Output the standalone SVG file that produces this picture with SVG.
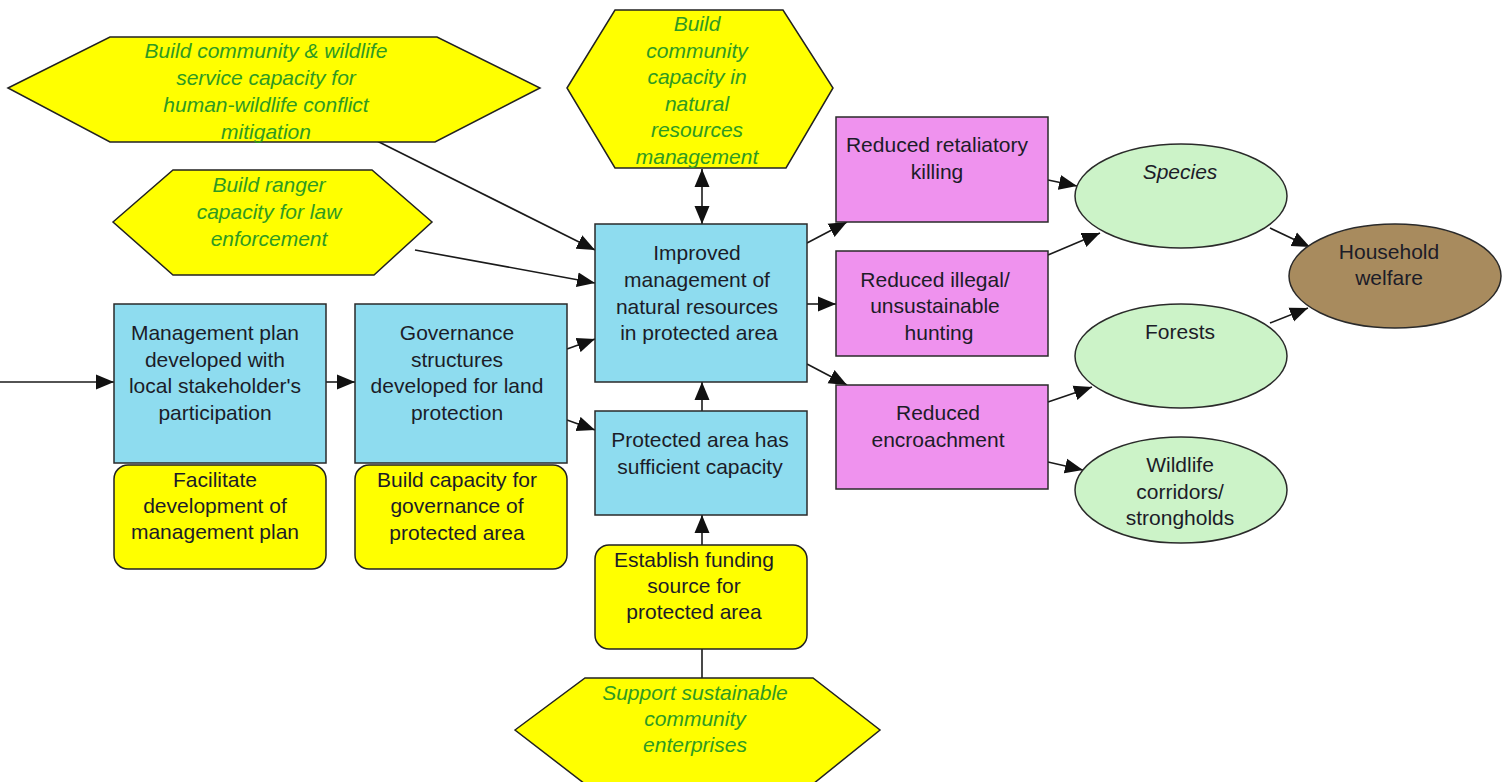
<svg xmlns="http://www.w3.org/2000/svg" width="1509" height="782" viewBox="0 0 1509 782">
  <defs>
    <marker id="arrow" markerUnits="userSpaceOnUse" markerWidth="19" markerHeight="16" refX="18" refY="8" orient="auto-start-reverse">
      <path d="M0,0.5 L18,8 L0,15.5 z" fill="#111"/>
    </marker>
  </defs>
  <style>
    text { font-family: "Liberation Sans", Arial, sans-serif; font-size: 21px; text-anchor: middle; fill: #1c1c28; }
    .strategy text { fill: #2f9a22; font-style: italic; }
    .hex { fill: #ffff00; stroke: #222; stroke-width: 1.5; }
    .activity { fill: #ffff00; stroke: #222; stroke-width: 1.5; }
    .result { fill: #8edcef; stroke: #2a2a2a; stroke-width: 1.5; }
    .threat { fill: #ef92ee; stroke: #2a2a2a; stroke-width: 1.5; }
    .target { fill: #ccf3c8; stroke: #2a2a2a; stroke-width: 1.5; }
    .welfare { fill: #a88b5e; stroke: #2a2a2a; stroke-width: 1.5; }
    .links line { stroke: #1a1a1a; stroke-width: 1.6; }
    .links .arr { marker-end: url(#arrow); }
  </style>
  <rect width="1509" height="782" fill="#ffffff"/>

  <!-- connectors -->
  <g id="connectors" class="links">
    <line class="arr" x1="0" y1="382" x2="114" y2="382"/>
    <line class="arr" x1="326" y1="382" x2="355" y2="382"/>
    <line class="arr" x1="377" y1="141" x2="595" y2="250"/>
    <line class="arr" x1="415" y1="250" x2="595" y2="283"/>
    <line class="arr" x1="567" y1="349" x2="595" y2="339"/>
    <line class="arr" x1="567" y1="420" x2="595" y2="430"/>
    <line class="arr" x1="702" y1="169" x2="702" y2="224" marker-start="url(#arrow)"/>
    <line class="arr" x1="702" y1="411" x2="702" y2="382"/>
    <line class="arr" x1="702" y1="545" x2="702" y2="515"/>
    <line x1="702" y1="678" x2="702" y2="649"/>
    <line class="arr" x1="807" y1="243" x2="847" y2="222"/>
    <line class="arr" x1="807" y1="304" x2="836" y2="304"/>
    <line class="arr" x1="807" y1="364" x2="847" y2="385"/>
    <line class="arr" x1="1048" y1="180" x2="1077" y2="186"/>
    <line class="arr" x1="1048" y1="255" x2="1100" y2="233"/>
    <line class="arr" x1="1048" y1="402" x2="1092" y2="387"/>
    <line class="arr" x1="1048" y1="462" x2="1083" y2="470"/>
    <line class="arr" x1="1270" y1="228" x2="1310" y2="247"/>
    <line class="arr" x1="1270" y1="323" x2="1308" y2="308"/>
  </g>

  <!-- strategies (hexagons) -->
  <g id="hwc-capacity" class="strategy">
    <polygon class="hex" points="8,88 110,37 437,37 540,88 435,142 110,142"/>
    <text x="266" y="58">Build community &amp; wildlife</text>
    <text x="266" y="85">service capacity for</text>
    <text x="266" y="112">human-wildlife conflict</text>
    <text x="266" y="139">mitigation</text>
  </g>
  <g id="ranger-capacity" class="strategy">
    <polygon class="hex" points="113,222 173,170 372,170 432,222 374,275 173,275"/>
    <text x="269" y="192">Build ranger</text>
    <text x="269" y="219">capacity for law</text>
    <text x="269" y="246">enforcement</text>
  </g>
  <g id="nrm-capacity" class="strategy">
    <polygon class="hex" points="567,88 615,10 783,10 833,88 786,168 615,168"/>
    <text x="697" y="31">Build</text>
    <text x="697" y="58">community</text>
    <text x="697" y="84">capacity in</text>
    <text x="697" y="111">natural</text>
    <text x="697" y="137">resources</text>
    <text x="697" y="164">management</text>
  </g>
  <g id="community-enterprises" class="strategy">
    <polygon class="hex" points="515,730 585,678 813,678 880,730 813,784 585,784"/>
    <text x="695" y="700">Support sustainable</text>
    <text x="695" y="726">community</text>
    <text x="695" y="752">enterprises</text>
  </g>

  <!-- intermediate results -->
  <g id="management-plan">
    <rect class="result" x="114" y="304" width="212" height="159"/>
    <text x="215" y="340">Management plan</text>
    <text x="215" y="367">developed with</text>
    <text x="215" y="393">local stakeholder's</text>
    <text x="215" y="420">participation</text>
  </g>
  <g id="facilitate-plan">
    <rect class="activity" x="114" y="465" width="212" height="104" rx="14"/>
    <text x="215" y="487">Facilitate</text>
    <text x="215" y="513">development of</text>
    <text x="215" y="539">management plan</text>
  </g>
  <g id="governance">
    <rect class="result" x="355" y="304" width="212" height="159"/>
    <text x="457" y="340">Governance</text>
    <text x="457" y="367">structures</text>
    <text x="457" y="393">developed for land</text>
    <text x="457" y="420">protection</text>
  </g>
  <g id="governance-capacity">
    <rect class="activity" x="355" y="465" width="212" height="104" rx="14"/>
    <text x="457" y="487">Build capacity for</text>
    <text x="457" y="513">governance of</text>
    <text x="457" y="540">protected area</text>
  </g>
  <g id="improved-management">
    <rect class="result" x="595" y="224" width="212" height="158"/>
    <text x="697" y="260">Improved</text>
    <text x="697" y="287">management of</text>
    <text x="697" y="314">natural resources</text>
    <text x="699" y="340">in protected area</text>
  </g>
  <g id="pa-capacity">
    <rect class="result" x="595" y="411" width="212" height="104"/>
    <text x="700" y="447">Protected area has</text>
    <text x="700" y="474">sufficient capacity</text>
  </g>
  <g id="funding-source">
    <rect class="activity" x="595" y="545" width="212" height="104" rx="14"/>
    <text x="694" y="567">Establish funding</text>
    <text x="694" y="593">source for</text>
    <text x="694" y="619">protected area</text>
  </g>

  <!-- threat reductions -->
  <g id="retaliatory-killing">
    <rect class="threat" x="836" y="117" width="212" height="105"/>
    <text x="937" y="152">Reduced retaliatory</text>
    <text x="937" y="179">killing</text>
  </g>
  <g id="illegal-hunting">
    <rect class="threat" x="836" y="251" width="212" height="105"/>
    <text x="935" y="287">Reduced illegal/</text>
    <text x="935" y="313">unsustainable</text>
    <text x="939" y="340">hunting</text>
  </g>
  <g id="encroachment">
    <rect class="threat" x="836" y="385" width="212" height="104"/>
    <text x="938" y="420">Reduced</text>
    <text x="938" y="447">encroachment</text>
  </g>

  <!-- targets -->
  <g id="species">
    <ellipse class="target" cx="1181" cy="196" rx="106" ry="52"/>
    <text x="1180" y="179" font-style="italic">Species</text>
  </g>
  <g id="forests">
    <ellipse class="target" cx="1181" cy="356" rx="106" ry="52"/>
    <text x="1180" y="339">Forests</text>
  </g>
  <g id="wildlife-corridors">
    <ellipse class="target" cx="1181" cy="490" rx="106" ry="53"/>
    <text x="1180" y="472">Wildlife</text>
    <text x="1180" y="499">corridors/</text>
    <text x="1180" y="525">strongholds</text>
  </g>
  <g id="household-welfare">
    <ellipse class="welfare" cx="1395" cy="276" rx="106" ry="52"/>
    <text x="1389" y="259">Household</text>
    <text x="1389" y="285">welfare</text>
  </g>
</svg>
